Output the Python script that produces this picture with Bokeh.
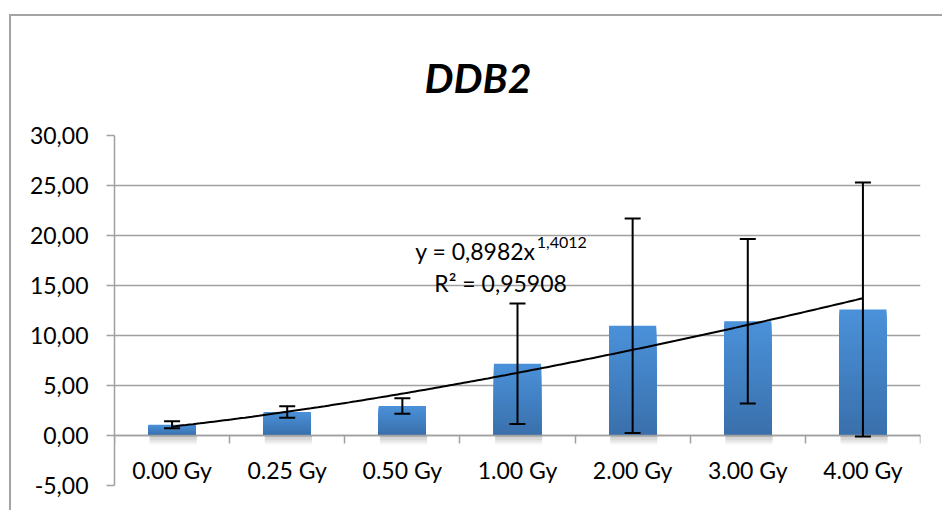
import numpy as np
from bokeh.plotting import figure
from bokeh.models import (ColumnDataSource, Range1d, LinearAxis, FixedTicker,
                          CustomJSTickFormatter, Whisker, TeeHead, Label)
from bokeh.embed import file_html
from bokeh.resources import INLINE

# ---------------- data ----------------
categories = ["0.00 Gy", "0.25 Gy", "0.50 Gy", "1.00 Gy", "2.00 Gy", "3.00 Gy", "4.00 Gy"]
means = [1.08, 2.35, 2.95, 7.17, 10.98, 11.43, 12.60]
errors = [0.35, 0.58, 0.77, 6.02, 10.72, 8.23, 12.70]
y_ticks = [-5, 0, 5, 10, 15, 20, 25, 30]
trend_a = 0.8982
trend_b = 1.4012
r_squared = "0,95908"
title_text = "DDB2"

FONT = "Lato"
GRAY = "#a0a0a0"

n = len(categories)
centers = [i + 0.5 for i in range(n)]
BAR_W = 0.41

p = figure(width=933, height=496, x_range=Range1d(0, n), y_range=Range1d(-5, 30),
           output_backend="svg", toolbar_location=None, x_axis_location=None,
           min_border_left=103, min_border_right=24, min_border_top=119,
           min_border_bottom=27)
p.styles = {"margin-left": "9px", "margin-top": "14px",
            "border-left": "2px solid #a3a3a3", "border-top": "2px solid #a3a3a3"}
p.outline_line_color = None
p.background_fill_color = "white"
p.border_fill_color = "white"

# title
p.title.text = title_text
p.title.text_font = FONT
p.title.text_font_size = "41px"
p.title.text_font_style = "bold italic"
p.title.text_color = "black"
p.title.align = "left"
p.title.offset = 310
p.title.vertical_align = "middle"
p.title.standoff = 66

# y axis
yax = p.yaxis[0]
yax.ticker = FixedTicker(ticks=y_ticks)
yax.formatter = CustomJSTickFormatter(code="return tick.toFixed(2).replace('.', ',');")
yax.major_tick_out = 8
yax.major_tick_in = 0
yax.minor_tick_line_color = None
yax.axis_line_color = GRAY
yax.axis_line_width = 1.5
yax.major_tick_line_color = GRAY
yax.major_tick_line_width = 1.5
yax.major_label_text_font = FONT
yax.major_label_text_font_size = "23px"
yax.major_label_text_color = "black"
yax.major_label_standoff = 18

p.ygrid.ticker = FixedTicker(ticks=y_ticks)
p.ygrid.grid_line_color = GRAY
p.ygrid.grid_line_width = 1.5
p.xgrid.visible = False

# x axis at y = 0 : boundary ticks + category labels
ax_ticks = LinearAxis(fixed_location=0, ticker=FixedTicker(ticks=list(range(n + 1))),
                      formatter=CustomJSTickFormatter(code="return '';"),
                      major_tick_out=8, major_tick_in=0,
                      axis_line_color=GRAY, axis_line_width=1.5,
                      major_tick_line_color=GRAY, major_tick_line_width=1.5,
                      minor_tick_line_color=None)
ax_labels = LinearAxis(fixed_location=0, ticker=FixedTicker(ticks=centers),
                       formatter=CustomJSTickFormatter(args=dict(labels=categories),
                                                       code="return labels[Math.floor(tick)];"),
                       major_tick_out=0, major_tick_in=0, axis_line_color=None,
                       major_tick_line_color=None, minor_tick_line_color=None,
                       major_label_text_font=FONT, major_label_text_font_size="23px",
                       major_label_text_color="black", major_label_standoff=20)
p.add_layout(ax_ticks, "below")
p.add_layout(ax_labels, "below")

# bar shadows
for j in range(1, 5):
    p.quad(left=[c - BAR_W / 2 + 0.01 for c in centers],
           right=[c + BAR_W / 2 + 0.01 for c in centers],
           bottom=[-0.22 * j] * n, top=[0] * n,
           fill_color="black", fill_alpha=0.05, line_color=None)

# gradient bars: tallest (lightest) first, progressively shorter & darker on top
top_rgb = np.array([75, 146, 218])
bot_rgb = np.array([58, 112, 172])
N = 40
for k in range(N - 1, -1, -1):
    t = (k + 0.5) / N
    rgb = (bot_rgb + (top_rgb - bot_rgb) * t).astype(int)
    col = "#%02x%02x%02x" % tuple(rgb)
    p.quad(left=[c - BAR_W / 2 for c in centers],
           right=[c + BAR_W / 2 for c in centers],
           bottom=[0] * n, top=[m * (k + 1) / N for m in means],
           fill_color=col, line_color=None)

# power trendline from the chart's displayed fit
xs = np.linspace(1, n, 200)
p.line(xs - 0.5, trend_a * xs ** trend_b, line_color="black", line_width=2)

# error bars
src = ColumnDataSource(dict(x=centers,
                            upper=[m + e for m, e in zip(means, errors)],
                            lower=[m - e for m, e in zip(means, errors)]))
w = Whisker(source=src, base="x", upper="upper", lower="lower",
            line_color="black", line_width=2, level="annotation",
            upper_head=TeeHead(size=16, line_width=2, line_color="black"),
            lower_head=TeeHead(size=16, line_width=2, line_color="black"))
p.add_layout(w)

# trendline equation
eq = "y = " + str(trend_a).replace(".", ",") + "x"
sup = str(trend_b).replace(".", ",")
p.add_layout(Label(x=2.612, y=18.5, text=eq, text_font=FONT, text_font_size="23px",
                   text_baseline="alphabetic", text_color="black"))
p.add_layout(Label(x=3.668, y=19.3, text=sup, text_font=FONT, text_font_size="16px",
                   text_baseline="alphabetic", text_color="black"))
p.add_layout(Label(x=2.778, y=15.3, text="R² = " + r_squared, text_font=FONT,
                   text_font_size="23px", text_baseline="alphabetic", text_color="black"))

open("out.html", "w").write(file_html(p, INLINE))
